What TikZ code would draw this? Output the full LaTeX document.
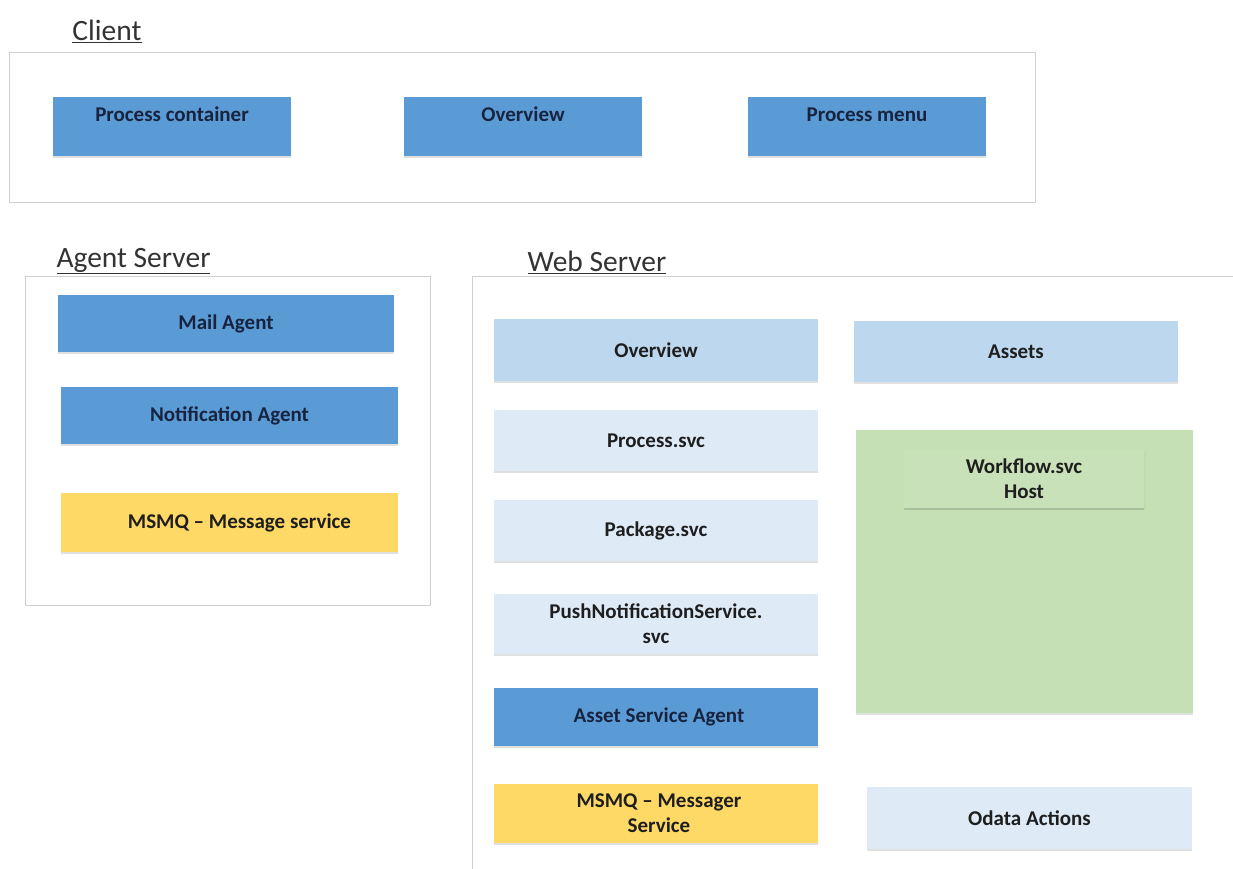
\documentclass[tikz,border=0pt]{standalone}
\usepackage{fontspec}
\setmainfont{Carlito}
\usetikzlibrary{shadows}

\definecolor{boxblue}{HTML}{5B9BD5}
\definecolor{boxsky}{HTML}{BDD7EE}
\definecolor{boxpale}{HTML}{DEEBF7}
\definecolor{boxyellow}{HTML}{FFD966}
\definecolor{boxgreen}{HTML}{C5E0B4}
\definecolor{innergreen}{HTML}{C8E1B8}
\definecolor{textnavy}{HTML}{17233F}
\definecolor{textdark}{HTML}{1E1E1E}
\definecolor{frame}{HTML}{D0D0D0}

\begin{document}
\begin{tikzpicture}[x=1pt, y=-1pt, line join=round]

  % Styles
  \tikzset{
    part/.style={rectangle, inner sep=3pt, align=center,
      font=\fontsize{21}{25}\selectfont\bfseries,
      drop shadow={shadow xshift=0pt, shadow yshift=-2pt, opacity=0.12, fill=black}},
    part-blue/.style={part, fill=boxblue, text=textnavy},
    part-sky/.style={part, fill=boxsky, text=textdark},
    part-pale/.style={part, fill=boxpale, text=textdark},
    part-yellow/.style={part, fill=boxyellow, text=textdark},
    top-text/.style={text depth=24pt},
    tier-title/.style={font=\fontsize{29.5}{33}\selectfont, text=black!80},
    tier-frame/.style={draw=frame, line width=0.9pt},
  }

  \useasboundingbox (0,0) rectangle (1233,869);

  % Client tier
  \node[tier-title] (clientT) at (107,31) {\underline{Client}};
  \draw[tier-frame] (9,52) rectangle (1035,202);

  \node[part-blue, top-text, minimum width=238pt, minimum height=59pt] (pcont) at (172,126.5) {Process container};
  \node[part-blue, top-text, minimum width=238pt, minimum height=59pt] (cover) at (523,126.5) {Overview};
  \node[part-blue, top-text, minimum width=238pt, minimum height=59pt] (pmenu) at (867,126.5) {Process menu};

  % Agent server tier
  \node[tier-title] (agentT) at (133.5,261) {\underline{Agent Server}};
  \draw[tier-frame] (25,276) rectangle (430,605);

  \node[part-blue, minimum width=336pt, minimum height=57pt] (mail) at (226,323.5) {Mail Agent};
  \node[part-blue, minimum width=337pt, minimum height=57pt] (notif) at (229.5,415.5) {Notification Agent};
  \node[part-yellow, minimum width=337pt, minimum height=59pt] (msmqA) at (229.5,522.5) {\hspace*{20pt}MSMQ -- Message service};

  % Web server tier
  \node[tier-title] (webT) at (597,262) {\underline{Web Server}};
  \draw[tier-frame] (472,869) -- (472,276) -- (1233,276);

  \node[part-sky, minimum width=324pt, minimum height=62pt] (wover) at (656,350) {Overview};
  \node[part-pale, minimum width=324pt, minimum height=61pt] (proc) at (656,440.5) {Process.svc};
  \node[part-pale, minimum width=324pt, minimum height=61pt] (pack) at (656,530.5) {Package.svc};
  \node[part-pale, minimum width=324pt, minimum height=60pt] (push) at (656,624) {PushNotificationService.\\svc};
  \node[part-blue, minimum width=324pt, minimum height=58pt] (asset) at (656,717) {\hspace*{6pt}Asset Service Agent};
  \node[part-yellow, minimum width=324pt, minimum height=59pt] (msmqW) at (656,813.5) {\hspace*{6pt}MSMQ -- Messager\\\hspace*{6pt}Service};

  \node[part-sky, minimum width=324pt, minimum height=61pt] (assets) at (1016,351.5) {Assets};
  \node[part, fill=boxgreen, minimum width=337pt, minimum height=283pt] (wfhost) at (1024.5,571.5) {};
  \node[part, fill=innergreen, text=textdark, minimum width=240pt, minimum height=58pt,
    drop shadow={shadow yshift=-1.5pt, opacity=0.06}] (wflow) at (1024,479) {Workflow.svc\\Host};
  \node[part-pale, minimum width=325pt, minimum height=62pt] (odata) at (1029.5,818) {Odata Actions};

\end{tikzpicture}
\end{document}
